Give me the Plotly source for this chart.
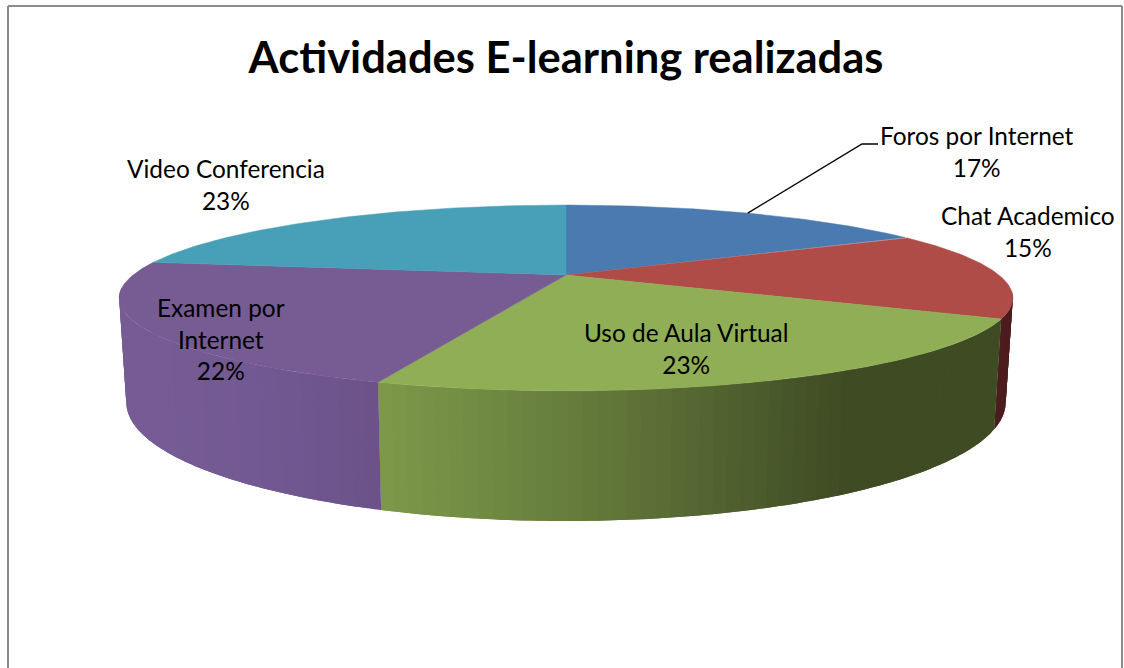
import numpy as np
import plotly.graph_objects as go

# ---- data ----
categories = ["Foros por Internet", "Chat Academico", "Uso de Aula Virtual", "Examen por<br>Internet", "Video Conferencia"]
percent = [17.0, 15.4, 23.0, 22.0, 22.6]
title_text = "Actividades E-learning realizadas"

# ---- styles ----
top_colors = ["#4a7ab0", "#b04c48", "#8fae55", "#775c94", "#48a0b8"]
side_stops = [
    [(0, "#3a6390"), (1124, "#3a6390")],
    [(0, "#4c1c1e"), (1124, "#4c1c1e")],
    [(380, "#7f9a4a"), (500, "#708a42"), (640, "#5f7438"), (780, "#4a5a2b"), (860, "#3f4b23"), (1000, "#3f4b23")],
    [(120, "#775c94"), (250, "#735993"), (380, "#6b5287")],
    [(0, "#3a8296"), (1124, "#3a8296")],
]
label_x = [977, 1028, 686, 221, 226]
label_y = [151, 231, 348, 339, 184]

# ---- projection of the pie disc ----
CX, APEX_Y, R, A, C = 566.0, 275.0, 433.0, 19.3, -0.247
DEPTH, SHRINK = 98.0, 0.984


def project(theta):
    u, v = np.sin(theta), -np.cos(theta)
    den = 1 + C * v
    return CX + R * u / den, (A * v + APEX_Y) / den


def project_bottom(theta):
    u, v = np.sin(theta), -np.cos(theta)
    den = 1 + C * v
    x, y = project(theta)
    return CX + (x - CX) * SHRINK, y + DEPTH / den


def hex_rgb(h):
    return np.array([int(h[i:i + 2], 16) for i in (1, 3, 5)], float)


def shade(stops, x):
    xs = [s[0] for s in stops]
    cols = np.array([hex_rgb(s[1]) for s in stops])
    rgb = [np.interp(x, xs, cols[:, k]) for k in range(3)]
    return "rgb(%d,%d,%d)" % tuple(int(round(c)) for c in rgb)


fractions = np.cumsum([0] + percent) / float(sum(percent))
angles = 2 * np.pi * fractions

fig = go.Figure()

# side wall: overlapping strips along the visible rim, painted in order so no seams show
VIS_A, VIS_B = np.radians(100), np.radians(262)
for i in range(len(percent)):
    a0, a1 = max(angles[i], VIS_A), min(angles[i + 1], VIS_B)
    if a1 <= a0:
        continue
    n = max(2, int(np.degrees(a1 - a0) / 1.5))
    edges = np.linspace(a0, a1, n + 1)
    step = edges[1] - edges[0]
    for k in range(n - 1, -1, -1) if i < 3 else range(n):
        t0 = edges[k]
        t1 = edges[k + 1]
        if i < 3 and k > 0:
            t0 -= 0
        th = np.linspace(t0, t1 + (step if k < n - 1 else 0), 5)
        xt, yt = project(th)
        xb, yb = project_bottom(th)
        px = np.concatenate([xt, xb[::-1]])
        py = np.concatenate([yt, yb[::-1]])
        col = shade(side_stops[i], float(project(np.array([edges[k] + step / 2]))[0][0]))
        fig.add_trace(go.Scatter(x=px, y=py, mode="none", fill="toself", fillcolor=col,
                                 hoverinfo="skip", showlegend=False))

# top face slices
for i in range(len(percent)):
    th = np.linspace(angles[i], angles[i + 1], 120)
    xt, yt = project(th)
    px = np.concatenate([[CX], xt, [CX]])
    py = np.concatenate([[APEX_Y], yt, [APEX_Y]])
    fig.add_trace(go.Scatter(x=px, y=py, mode="lines", fill="toself", fillcolor=top_colors[i],
                             line=dict(color=top_colors[i], width=0.5), name=categories[i],
                             hoverinfo="name", showlegend=False))

# leader line for the first slice
lead_theta = angles[1] * 0.5
lx, ly = project(np.array([lead_theta]))
fig.add_trace(go.Scatter(x=[lx[0], 862, 878], y=[ly[0], 144, 144], mode="lines",
                         line=dict(color="#000000", width=1.3), hoverinfo="skip", showlegend=False))

for name, pct, x, y in zip(categories, percent, label_x, label_y):
    fig.add_annotation(x=x, y=y, xref="x", yref="y", text=f"{name}<br>{round(pct)}%", showarrow=False,
                       align="center", font=dict(family="Lato", size=24.4, color="#000000"))

frame = dict(type="line", line=dict(color="#8c8c8c", width=2))
fig.update_layout(
    width=1124, height=668, margin=dict(l=0, r=0, t=0, b=0),
    paper_bgcolor="#ffffff", plot_bgcolor="#ffffff", showlegend=False,
    title=dict(text=f"<b>{title_text}</b>", x=566 / 1124, xanchor="center", y=1 - 58 / 668, yanchor="middle",
               font=dict(family="Lato", size=43.5, color="#000000")),
    xaxis=dict(range=[0, 1124], visible=False, fixedrange=True),
    yaxis=dict(range=[668, 0], visible=False, fixedrange=True),
    shapes=[
        dict(frame, x0=8, x1=8, y0=6, y1=668),
        dict(frame, x0=8, x1=1122, y0=6, y1=6),
        dict(frame, x0=1122, x1=1122, y0=6, y1=668),
    ],
)
fig.write_html("out.html", config={"displayModeBar": False},
               post_script="document.body.style.margin='0';document.body.style.overflow='hidden';")
